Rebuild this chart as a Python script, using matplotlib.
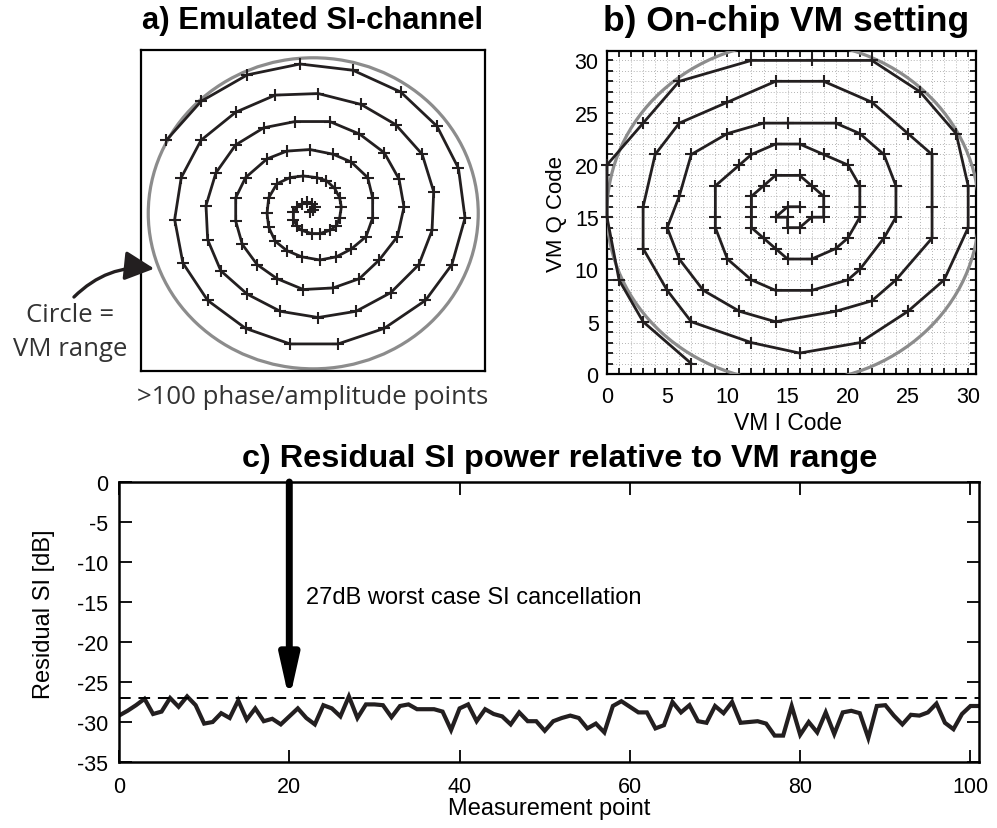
import matplotlib
matplotlib.use("Agg")
import matplotlib.pyplot as plt
from matplotlib.patches import Ellipse, FancyArrowPatch
from matplotlib.ticker import MultipleLocator
import numpy as np

plt.rcParams["axes.unicode_minus"] = False

W, H = 997, 829
BOLD = ["Liberation Sans Narrow", "Liberation Sans", "DejaVu Sans"]
ARIAL = ["Liberation Sans", "DejaVu Sans"]
MYRIAD = ["Open Sans", "DejaVu Sans"]
INK = "#231f20"
GREY = "#8c8c8c"

# a) emulated SI channel (normalised, VM range circle = unit circle), outer end -> centre
spiral_x = [-0.89, -0.68, -0.40, -0.08, 0.24, 0.53, 0.75, 0.88, 0.92, 0.84, 0.68, 0.43, 0.15,
            -0.14, -0.41, -0.64, -0.79, -0.84, -0.80, -0.68, -0.47, -0.23, 0.03, 0.29, 0.50,
            0.66, 0.73, 0.72, 0.64, 0.47, 0.26, 0.03, -0.20, -0.40, -0.56, -0.64, -0.65, -0.59,
            -0.47, -0.30, -0.11, 0.10, 0.28, 0.43, 0.52, 0.55, 0.51, 0.40, 0.28, 0.12, -0.06,
            -0.22, -0.34, -0.43, -0.47, -0.47, -0.41, -0.28, -0.16, -0.02, 0.12, 0.23, 0.33,
            0.36, 0.36, 0.32, 0.23, 0.14, 0.04, -0.07, -0.16, -0.23, -0.27, -0.28, -0.27, -0.22,
            -0.14, -0.06, 0.02, 0.08, 0.13, 0.16, 0.17, 0.16, 0.14, 0.10, 0.04, -0.01, -0.07,
            -0.10, -0.12, -0.12, -0.10, -0.07, -0.04, -0.01, 0.01, 0.00, -0.02]
spiral_y = [0.47, 0.72, 0.89, 0.96, 0.92, 0.78, 0.56, 0.29, -0.03, -0.33, -0.56, -0.74, -0.84,
            -0.84, -0.74, -0.56, -0.32, -0.04, 0.23, 0.47, 0.65, 0.76, 0.77, 0.70, 0.57, 0.38,
            0.14, -0.11, -0.33, -0.51, -0.63, -0.67, -0.63, -0.52, -0.37, -0.17, 0.05, 0.26,
            0.44, 0.55, 0.59, 0.59, 0.51, 0.39, 0.22, 0.04, -0.15, -0.30, -0.42, -0.48, -0.49,
            -0.42, -0.33, -0.20, -0.05, 0.10, 0.23, 0.35, 0.40, 0.41, 0.38, 0.33, 0.23, 0.10,
            -0.03, -0.15, -0.23, -0.28, -0.30, -0.28, -0.24, -0.18, -0.09, 0.00, 0.10, 0.19,
            0.23, 0.24, 0.23, 0.21, 0.16, 0.10, 0.04, -0.03, -0.08, -0.11, -0.13, -0.13, -0.11,
            -0.08, -0.04, 0.01, 0.04, 0.06, 0.07, 0.06, 0.04, 0.02, 0.01]
circle_a = (0.0, 0.0, 1.0)

# b) on-chip VM setting (I code, Q code), outer end -> centre
vm_i = [7, 3, 1, 0, 0, 3, 6, 12, 17, 22, 26, 29, 30, 30, 28, 25, 21, 16, 12, 7, 5, 3, 3, 4, 6,
        10, 14, 18, 22, 25, 27, 27, 27, 24, 22, 19, 14, 11, 8, 6, 5, 6, 7, 10, 13, 15, 19, 21,
        23, 24, 24, 23, 21, 20, 17, 14, 12, 10, 9, 9, 9, 11, 12, 14, 16, 18, 20, 21, 21, 21,
        20, 19, 17, 15, 14, 13, 12, 12, 12, 12, 13, 14, 16, 17, 18, 18, 18, 17, 16, 15, 15,
        14, 15, 16]
vm_q = [1, 5, 9, 15, 20, 24, 28, 30, 30, 30, 27, 23, 18, 14, 9, 6, 3, 2, 3, 5, 8, 12, 16, 21,
        24, 26, 28, 28, 26, 23, 21, 16, 13, 9, 7, 6, 5, 6, 8, 11, 14, 17, 21, 23, 24, 24, 24,
        23, 21, 18, 15, 13, 10, 9, 8, 8, 9, 11, 14, 15, 18, 20, 21, 22, 22, 21, 20, 18, 16,
        15, 13, 12, 11, 11, 12, 13, 14, 15, 16, 17, 18, 19, 19, 18, 17, 16, 15, 15, 14, 14,
        15, 15, 16, 16]
circle_b = (15.45, 15.5, 30.9, 32.6)  # centre I, centre Q, width, height in codes

# c) residual SI power per measurement point [dB]
residual_db = [-29.2, -28.6, -27.9, -27.1, -29.0, -28.7, -27.0, -28.1, -26.8, -27.9,
               -30.2, -30.0, -28.9, -29.5, -27.3, -29.7, -28.3, -29.9, -29.6, -30.3,
               -29.3, -28.3, -29.5, -30.3, -27.9, -28.3, -29.3, -26.8, -29.5, -27.8,
               -27.8, -27.9, -29.4, -28.0, -27.8, -28.4, -28.4, -28.4, -28.7, -31.0,
               -28.3, -27.8, -29.9, -28.4, -29.0, -29.3, -30.3, -28.8, -29.9, -29.9,
               -31.1, -29.9, -29.5, -29.2, -29.5, -30.8, -30.2, -31.3, -28.0, -27.4,
               -28.1, -28.8, -28.8, -30.8, -30.4, -27.5, -28.8, -27.9, -29.9, -30.1,
               -28.0, -28.9, -27.5, -30.1, -30.0, -29.9, -30.2, -31.7, -31.7, -28.0,
               -31.6, -30.0, -31.3, -28.8, -31.5, -28.8, -28.6, -28.9, -32.0, -28.0,
               -27.9, -29.2, -30.3, -29.1, -29.2, -28.8, -27.7, -30.1, -30.9, -29.0,
               -28.0, -28.0]
worst_case_db = -27
arrow_point = 20


def px_axes(fig, left, top, right, bottom):
    return fig.add_axes([left / W, 1 - bottom / H, (right - left) / W, (bottom - top) / H])


fig = plt.figure(figsize=(W / 100, H / 100), dpi=100)

# ---- a) ----
ax = px_axes(fig, 141, 51, 485, 372)
ax.set_xlim(-1.044, 1.041)
ax.set_ylim(-1.014, 1.050)
ax.set_xticks([])
ax.set_yticks([])
for s in ax.spines.values():
    s.set_linewidth(1.6)
cx, cy, r = circle_a
ax.add_patch(Ellipse((cx, cy), 2 * r, 2 * r, fill=False, ec=GREY, lw=2.3, zorder=1))
ax.plot(spiral_x, spiral_y, color=INK, lw=2.0, marker="+", ms=8.5, mew=1.5, mec=INK, zorder=2)

fig.text(313 / W, 1 - 21 / H, "a) Emulated SI-channel", family=BOLD, weight="bold",
         fontsize=22.3, ha="center", va="center")
fig.text(70 / W, 1 - 316 / H, "Circle =", family=MYRIAD, fontsize=18.5, color="#333333",
         ha="center", va="center")
fig.text(70 / W, 1 - 350 / H, "VM range", family=MYRIAD, fontsize=18.5, color="#333333",
         ha="center", va="center")
fig.text(313 / W, 1 - 398 / H, ">100 phase/amplitude points", family=MYRIAD, fontsize=18.5,
         color="#333333", ha="center", va="center")
fig.add_artist(FancyArrowPatch(
    (72 / W, 1 - 300 / H), (157 / W, 1 - 270 / H), transform=fig.transFigure,
    connectionstyle="arc3,rad=-0.25", arrowstyle="-|>,head_length=0.9,head_width=0.45",
    mutation_scale=20, lw=2.4, color=INK))

# ---- b) ----
bx = px_axes(fig, 607, 52, 976, 375)
bx.set_xlim(0, 30.65)
bx.set_ylim(0, 30.9)
bx.xaxis.set_major_locator(MultipleLocator(5))
bx.yaxis.set_major_locator(MultipleLocator(5))
bx.xaxis.set_minor_locator(MultipleLocator(1))
bx.yaxis.set_minor_locator(MultipleLocator(1))
bx.tick_params(which="both", direction="in", top=True, right=True, length=4.5, width=1.2)
bx.tick_params(axis="x", labelsize=15.5, pad=9)
bx.tick_params(axis="y", labelsize=15.5, pad=6)
for lab in bx.get_xticklabels() + bx.get_yticklabels():
    lab.set_family(BOLD[1:])
bx.grid(which="both", color="#9a9a9a", lw=0.6, ls=(0, (1, 2.5)))
for s in bx.spines.values():
    s.set_linewidth(1.6)
bx.add_patch(Ellipse(circle_b[:2], circle_b[2], circle_b[3], fill=False, ec=GREY, lw=2.3,
                     zorder=3))
bx.plot(vm_i, vm_q, color=INK, lw=2.0, marker="+", ms=8.5, mew=1.5, zorder=4, clip_on=False)
bx.set_xlabel("VM I Code", family=ARIAL, fontsize=16.5)
bx.set_ylabel("VM Q Code", family=ARIAL, fontsize=16)
bx.xaxis.set_label_coords(0.49, -0.115)
bx.yaxis.set_label_coords(-0.108, 0.5)
fig.text(786 / W, 1 - 21 / H, "b) On-chip VM setting", family=BOLD, weight="bold",
         fontsize=25.5, ha="center", va="center")

# ---- c) ----
cax = px_axes(fig, 119, 483, 979, 763)
pts = np.arange(len(residual_db))
cax.plot(pts, residual_db, color=INK, lw=3.0, solid_joinstyle="miter")
cax.axhline(worst_case_db, color="black", lw=1.4, ls=(0, (6, 4)))
cax.set_xlim(0, 101)
cax.set_ylim(-35, 0)
cax.xaxis.set_major_locator(MultipleLocator(20))
cax.yaxis.set_major_locator(MultipleLocator(5))
cax.tick_params(direction="in", top=True, right=True, length=9, width=1.3, labelsize=15.5)
cax.tick_params(axis="x", pad=10)
cax.tick_params(axis="y", pad=8)
for lab in cax.get_xticklabels() + cax.get_yticklabels():
    lab.set_family(ARIAL)
for s in cax.spines.values():
    s.set_linewidth(1.8)
cax.annotate("", xy=(arrow_point, worst_case_db - 0.3), xytext=(arrow_point, 0),
             arrowprops=dict(arrowstyle="-|>,head_length=1.25,head_width=0.28", lw=5,
                             color="black", mutation_scale=20, shrinkA=0, shrinkB=0))
cax.text(22, -14.4, "27dB worst case SI cancellation", family=ARIAL, fontsize=17,
         va="center")
cax.set_xlabel("Measurement point", family=ARIAL, fontsize=17)
cax.set_ylabel("Residual SI [dB]", family=ARIAL, fontsize=17)
cax.xaxis.set_label_coords(0.5, -0.125)
cax.yaxis.set_label_coords(-0.075, 0.53)
fig.text(560 / W, 1 - 459 / H, "c) Residual SI power relative to VM range", family=BOLD,
         weight="bold", fontsize=23.4, ha="center", va="center")

fig.savefig("out.png", dpi=100)
